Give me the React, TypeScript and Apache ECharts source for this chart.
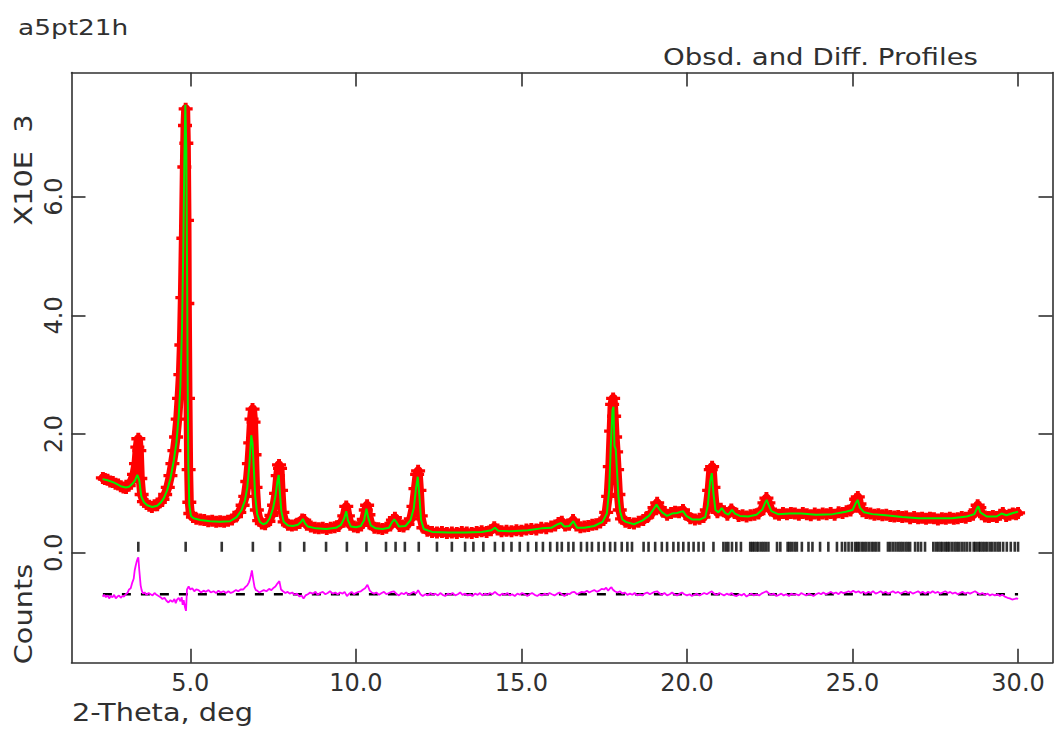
import React, { useEffect, useRef } from "react";
import * as echarts from "echarts";

// 2-theta (deg) vs observed counts (x1000)
const observed: [number, number][] = [
  [2.36, 1.26], [2.42, 1.24], [2.5, 1.23], [2.58, 1.2], [2.66, 1.19], [2.74, 1.16], [2.82, 1.15], [2.9, 1.12],
  [2.98, 1.1], [3.06, 1.09], [3.14, 1.13], [3.22, 1.2], [3.3, 1.32], [3.36, 1.5], [3.4, 1.78], [3.43, 1.92],
  [3.46, 1.72], [3.49, 1.25], [3.53, 0.98], [3.6, 0.86], [3.68, 0.82], [3.76, 0.79], [3.84, 0.77], [3.92, 0.8],
  [4.0, 0.8], [4.08, 0.85], [4.16, 0.9], [4.24, 0.98], [4.32, 1.1], [4.4, 1.3], [4.46, 1.5], [4.52, 1.72],
  [4.57, 1.95], [4.62, 2.25], [4.66, 2.6], [4.7, 3.0], [4.73, 3.5], [4.76, 4.3], [4.79, 5.3], [4.82, 6.5],
  [4.84, 7.2], [4.86, 7.48], [4.88, 6.9], [4.9, 5.6], [4.91, 4.2], [4.93, 2.6], [4.95, 1.4], [4.97, 0.85],
  [5.0, 0.66], [5.08, 0.6], [5.18, 0.57], [5.3, 0.56], [5.42, 0.55], [5.54, 0.53], [5.66, 0.54], [5.78, 0.52],
  [5.9, 0.53], [6.02, 0.52], [6.14, 0.54], [6.26, 0.56], [6.38, 0.61], [6.48, 0.68], [6.58, 0.8], [6.66, 0.95],
  [6.72, 1.2], [6.77, 1.5], [6.81, 1.85], [6.85, 2.25], [6.88, 2.42], [6.91, 2.2], [6.94, 1.65], [6.97, 1.1],
  [7.01, 0.72], [7.08, 0.54], [7.16, 0.49], [7.26, 0.48], [7.36, 0.53], [7.45, 0.63], [7.53, 0.8], [7.59, 1.0],
  [7.64, 1.3], [7.68, 1.48], [7.71, 1.42], [7.74, 1.05], [7.78, 0.68], [7.85, 0.52], [7.95, 0.47], [8.07, 0.46],
  [8.19, 0.47], [8.3, 0.5], [8.38, 0.56], [8.44, 0.55], [8.52, 0.47], [8.64, 0.44], [8.76, 0.42], [8.88, 0.41],
  [9.0, 0.42], [9.12, 0.4], [9.24, 0.42], [9.36, 0.43], [9.48, 0.45], [9.58, 0.52], [9.65, 0.62], [9.71, 0.78],
  [9.76, 0.62], [9.83, 0.47], [9.94, 0.44], [10.06, 0.43], [10.16, 0.46], [10.24, 0.56], [10.3, 0.72], [10.34, 0.8],
  [10.38, 0.64], [10.45, 0.48], [10.56, 0.42], [10.68, 0.41], [10.8, 0.4], [10.92, 0.42], [11.04, 0.46], [11.12, 0.55],
  [11.18, 0.59], [11.24, 0.53], [11.32, 0.45], [11.44, 0.44], [11.56, 0.48], [11.66, 0.57], [11.74, 0.78], [11.8, 1.08],
  [11.85, 1.32], [11.88, 1.38], [11.92, 1.05], [11.96, 0.62], [12.04, 0.42], [12.16, 0.37], [12.3, 0.35], [12.45, 0.34],
  [12.6, 0.35], [12.75, 0.33], [12.9, 0.34], [13.05, 0.33], [13.2, 0.35], [13.35, 0.34], [13.5, 0.33], [13.65, 0.35],
  [13.8, 0.36], [13.95, 0.35], [14.08, 0.38], [14.18, 0.43], [14.28, 0.39], [14.4, 0.36], [14.55, 0.37], [14.7, 0.36],
  [14.85, 0.38], [15.0, 0.37], [15.15, 0.39], [15.3, 0.4], [15.45, 0.39], [15.6, 0.42], [15.75, 0.41], [15.9, 0.44],
  [16.02, 0.46], [16.12, 0.5], [16.22, 0.52], [16.32, 0.46], [16.44, 0.47], [16.56, 0.55], [16.66, 0.46], [16.78, 0.43],
  [16.9, 0.44], [17.02, 0.45], [17.14, 0.47], [17.26, 0.48], [17.38, 0.51], [17.48, 0.55], [17.56, 0.68], [17.62, 0.95],
  [17.67, 1.45], [17.71, 2.05], [17.74, 2.5], [17.77, 2.6], [17.8, 2.3], [17.83, 1.95], [17.86, 1.7], [17.89, 1.4],
  [17.93, 0.98], [17.97, 0.72], [18.04, 0.57], [18.14, 0.52], [18.26, 0.5], [18.4, 0.49], [18.54, 0.52], [18.68, 0.55],
  [18.8, 0.6], [18.92, 0.66], [19.02, 0.76], [19.1, 0.84], [19.18, 0.76], [19.28, 0.69], [19.4, 0.64], [19.52, 0.67],
  [19.64, 0.69], [19.76, 0.68], [19.88, 0.72], [19.98, 0.64], [20.1, 0.58], [20.24, 0.56], [20.38, 0.57], [20.5, 0.6],
  [20.6, 0.72], [20.67, 1.05], [20.72, 1.4], [20.76, 1.45], [20.8, 1.1], [20.85, 0.78], [20.92, 0.68], [21.02, 0.74],
  [21.12, 0.7], [21.22, 0.64], [21.34, 0.73], [21.44, 0.67], [21.56, 0.62], [21.68, 0.63], [21.8, 0.61], [21.92, 0.63],
  [22.04, 0.64], [22.16, 0.66], [22.26, 0.72], [22.34, 0.84], [22.4, 0.92], [22.46, 0.84], [22.54, 0.71], [22.66, 0.66],
  [22.78, 0.64], [22.9, 0.67], [23.02, 0.65], [23.14, 0.67], [23.26, 0.66], [23.38, 0.64], [23.5, 0.67], [23.62, 0.65],
  [23.74, 0.63], [23.86, 0.66], [23.98, 0.64], [24.1, 0.66], [24.22, 0.65], [24.34, 0.67], [24.46, 0.64], [24.58, 0.68],
  [24.7, 0.67], [24.82, 0.7], [24.94, 0.71], [25.04, 0.78], [25.11, 0.9], [25.16, 0.94], [25.21, 0.82], [25.3, 0.7],
  [25.42, 0.67], [25.54, 0.66], [25.66, 0.64], [25.78, 0.65], [25.9, 0.63], [26.02, 0.64], [26.14, 0.62], [26.26, 0.61],
  [26.38, 0.62], [26.5, 0.6], [26.62, 0.61], [26.74, 0.58], [26.86, 0.6], [26.98, 0.58], [27.1, 0.59], [27.22, 0.57],
  [27.34, 0.59], [27.46, 0.58], [27.58, 0.56], [27.7, 0.58], [27.82, 0.57], [27.94, 0.59], [28.06, 0.57], [28.18, 0.58],
  [28.3, 0.6], [28.42, 0.59], [28.54, 0.62], [28.64, 0.64], [28.72, 0.72], [28.78, 0.8], [28.83, 0.76], [28.9, 0.65],
  [29.0, 0.61], [29.12, 0.6], [29.24, 0.62], [29.36, 0.6], [29.46, 0.64], [29.54, 0.67], [29.64, 0.62], [29.74, 0.64],
  [29.84, 0.66], [29.94, 0.65], [30.0, 0.67],
];

// calculated profile (x1000)
const calculated: [number, number][] = [
  [2.35, 1.24], [2.5, 1.22], [2.7, 1.18], [2.9, 1.12], [3.05, 1.1], [3.15, 1.11], [3.25, 1.16], [3.33, 1.22],
  [3.4, 1.31], [3.46, 1.22], [3.52, 0.95], [3.6, 0.85], [3.7, 0.8], [3.85, 0.77], [4.0, 0.79], [4.1, 0.84],
  [4.2, 0.92], [4.3, 1.05], [4.4, 1.25], [4.5, 1.55], [4.58, 1.85], [4.65, 2.3], [4.7, 2.8], [4.75, 3.8],
  [4.79, 5.2], [4.82, 6.6], [4.85, 7.55], [4.88, 6.8], [4.9, 5.0], [4.92, 3.0], [4.94, 1.5], [4.97, 0.8],
  [5.02, 0.62], [5.1, 0.58], [5.3, 0.55], [5.6, 0.53], [5.9, 0.52], [6.2, 0.53], [6.4, 0.6], [6.55, 0.72],
  [6.65, 0.88], [6.72, 1.1], [6.78, 1.45], [6.84, 1.98], [6.88, 1.85], [6.92, 1.4], [6.96, 0.95], [7.02, 0.65],
  [7.1, 0.52], [7.2, 0.48], [7.3, 0.5], [7.4, 0.58], [7.5, 0.75], [7.57, 0.95], [7.63, 1.2], [7.67, 1.31],
  [7.7, 1.05], [7.75, 0.7], [7.82, 0.52], [7.95, 0.46], [8.1, 0.45], [8.25, 0.47], [8.35, 0.52], [8.4, 0.57],
  [8.46, 0.5], [8.55, 0.44], [8.8, 0.41], [9.1, 0.4], [9.4, 0.42], [9.55, 0.47], [9.65, 0.58], [9.71, 0.7],
  [9.76, 0.55], [9.85, 0.44], [10.0, 0.43], [10.15, 0.45], [10.25, 0.55], [10.32, 0.74], [10.37, 0.6], [10.45, 0.46],
  [10.6, 0.41], [10.8, 0.4], [11.0, 0.42], [11.1, 0.52], [11.16, 0.56], [11.22, 0.52], [11.3, 0.44], [11.5, 0.45],
  [11.65, 0.55], [11.75, 0.75], [11.82, 1.1], [11.87, 1.28], [11.92, 0.95], [11.97, 0.55], [12.05, 0.4], [12.3, 0.35],
  [12.8, 0.34], [13.3, 0.34], [13.8, 0.35], [14.1, 0.38], [14.2, 0.42], [14.3, 0.37], [14.7, 0.36], [15.2, 0.38],
  [15.6, 0.41], [15.9, 0.42], [16.1, 0.48], [16.2, 0.5], [16.3, 0.44], [16.45, 0.45], [16.57, 0.53], [16.68, 0.42],
  [16.9, 0.42], [17.2, 0.45], [17.45, 0.52], [17.58, 0.66], [17.65, 1.05], [17.7, 1.8], [17.75, 2.4], [17.78, 2.46],
  [17.81, 1.8], [17.85, 1.74], [17.89, 1.35], [17.93, 0.95], [17.98, 0.7], [18.05, 0.56], [18.15, 0.52], [18.4, 0.48],
  [18.65, 0.54], [18.85, 0.62], [19.0, 0.74], [19.08, 0.81], [19.16, 0.74], [19.25, 0.68], [19.4, 0.62], [19.55, 0.66],
  [19.7, 0.67], [19.88, 0.7], [19.98, 0.62], [20.15, 0.56], [20.4, 0.56], [20.55, 0.6], [20.63, 0.8], [20.7, 1.2],
  [20.75, 1.34], [20.8, 1.0], [20.86, 0.72], [20.95, 0.68], [21.05, 0.75], [21.15, 0.67], [21.25, 0.64], [21.36, 0.72],
  [21.45, 0.66], [21.6, 0.62], [21.85, 0.61], [22.1, 0.64], [22.28, 0.73], [22.36, 0.84], [22.41, 0.89], [22.47, 0.8],
  [22.55, 0.7], [22.75, 0.65], [23.1, 0.66], [23.45, 0.66], [23.9, 0.64], [24.4, 0.65], [24.8, 0.69], [25.0, 0.72],
  [25.1, 0.84], [25.16, 0.89], [25.22, 0.76], [25.35, 0.68], [25.6, 0.65], [26.0, 0.63], [26.5, 0.6], [27.0, 0.58],
  [27.5, 0.58], [28.0, 0.58], [28.45, 0.61], [28.68, 0.65], [28.76, 0.75], [28.8, 0.78], [28.86, 0.68], [29.05, 0.61],
  [29.35, 0.61], [29.5, 0.66], [29.65, 0.63], [29.85, 0.67], [30.0, 0.69],
];

// difference curve, plotted with its offset (x1000)
const difference: [number, number][] = [
  [2.35, -0.74], [2.4, -0.71], [2.45, -0.75], [2.5, -0.72], [2.55, -0.77], [2.6, -0.73], [2.65, -0.75], [2.7, -0.71],
  [2.75, -0.77], [2.8, -0.74], [2.85, -0.72], [2.9, -0.76], [2.95, -0.73], [3.0, -0.74], [3.05, -0.7], [3.1, -0.68],
  [3.15, -0.62], [3.2, -0.6], [3.25, -0.5], [3.29, -0.44], [3.32, -0.3], [3.35, -0.22], [3.38, -0.15], [3.41, -0.1],
  [3.43, -0.08], [3.46, -0.3], [3.5, -0.55], [3.53, -0.63], [3.57, -0.69], [3.62, -0.67], [3.68, -0.71], [3.74, -0.68],
  [3.8, -0.7], [3.86, -0.72], [3.92, -0.68], [3.98, -0.71], [4.04, -0.73], [4.1, -0.75], [4.16, -0.78], [4.22, -0.76],
  [4.28, -0.81], [4.34, -0.84], [4.4, -0.8], [4.46, -0.83], [4.52, -0.78], [4.56, -0.85], [4.6, -0.79], [4.65, -0.76],
  [4.7, -0.82], [4.74, -0.75], [4.77, -0.88], [4.8, -0.8], [4.84, -0.92], [4.87, -0.98], [4.9, -0.62], [4.95, -0.57],
  [5.0, -0.62], [5.06, -0.6], [5.12, -0.65], [5.18, -0.62], [5.25, -0.63], [5.32, -0.67], [5.4, -0.64], [5.47, -0.66],
  [5.55, -0.63], [5.62, -0.67], [5.7, -0.65], [5.78, -0.68], [5.85, -0.64], [5.92, -0.67], [6.0, -0.65], [6.08, -0.68],
  [6.15, -0.65], [6.22, -0.68], [6.3, -0.66], [6.38, -0.63], [6.45, -0.65], [6.52, -0.62], [6.6, -0.62], [6.66, -0.58],
  [6.72, -0.55], [6.77, -0.5], [6.8, -0.45], [6.84, -0.36], [6.86, -0.3], [6.9, -0.45], [6.94, -0.58], [6.98, -0.63],
  [7.02, -0.64], [7.08, -0.67], [7.15, -0.65], [7.22, -0.63], [7.3, -0.65], [7.38, -0.61], [7.45, -0.63], [7.52, -0.59],
  [7.57, -0.57], [7.63, -0.52], [7.69, -0.48], [7.74, -0.62], [7.8, -0.65], [7.87, -0.68], [7.94, -0.66], [8.0, -0.69],
  [8.08, -0.67], [8.15, -0.71], [8.22, -0.69], [8.3, -0.74], [8.36, -0.72], [8.42, -0.77], [8.48, -0.72], [8.55, -0.7],
  [8.62, -0.67], [8.7, -0.69], [8.78, -0.66], [8.85, -0.71], [8.92, -0.68], [9.0, -0.66], [9.08, -0.7], [9.15, -0.68],
  [9.22, -0.65], [9.3, -0.69], [9.38, -0.67], [9.45, -0.7], [9.52, -0.67], [9.6, -0.69], [9.66, -0.66], [9.73, -0.73],
  [9.8, -0.69], [9.87, -0.66], [9.94, -0.7], [10.0, -0.68], [10.08, -0.66], [10.15, -0.65], [10.22, -0.62], [10.28, -0.6],
  [10.35, -0.54], [10.42, -0.64], [10.48, -0.67], [10.55, -0.69], [10.62, -0.67], [10.7, -0.71], [10.78, -0.68], [10.85, -0.66],
  [10.92, -0.7], [11.0, -0.68], [11.08, -0.66], [11.15, -0.65], [11.22, -0.69], [11.3, -0.72], [11.38, -0.68], [11.45, -0.7],
  [11.52, -0.67], [11.6, -0.71], [11.68, -0.68], [11.75, -0.66], [11.82, -0.69], [11.88, -0.63], [11.95, -0.7], [12.02, -0.73],
  [12.1, -0.7], [12.18, -0.72], [12.25, -0.68], [12.32, -0.71], [12.4, -0.69], [12.48, -0.72], [12.55, -0.68], [12.62, -0.71],
  [12.7, -0.73], [12.78, -0.69], [12.85, -0.71], [12.92, -0.68], [13.0, -0.72], [13.08, -0.7], [13.15, -0.67], [13.22, -0.71],
  [13.3, -0.69], [13.38, -0.72], [13.45, -0.7], [13.52, -0.73], [13.6, -0.69], [13.68, -0.71], [13.75, -0.68], [13.82, -0.72],
  [13.9, -0.69], [13.98, -0.71], [14.05, -0.68], [14.12, -0.7], [14.2, -0.66], [14.28, -0.7], [14.35, -0.72], [14.42, -0.69],
  [14.5, -0.71], [14.58, -0.68], [14.65, -0.72], [14.72, -0.7], [14.8, -0.73], [14.88, -0.69], [14.95, -0.71], [15.02, -0.68],
  [15.1, -0.7], [15.18, -0.73], [15.25, -0.7], [15.32, -0.68], [15.4, -0.71], [15.48, -0.73], [15.55, -0.7], [15.62, -0.72],
  [15.7, -0.69], [15.78, -0.71], [15.85, -0.68], [15.92, -0.7], [16.0, -0.72], [16.08, -0.69], [16.15, -0.67], [16.22, -0.7],
  [16.3, -0.73], [16.38, -0.69], [16.45, -0.7], [16.52, -0.67], [16.6, -0.66], [16.68, -0.7], [16.75, -0.68], [16.82, -0.66],
  [16.9, -0.67], [16.98, -0.64], [17.05, -0.67], [17.12, -0.65], [17.2, -0.63], [17.28, -0.66], [17.35, -0.64], [17.42, -0.61],
  [17.5, -0.62], [17.56, -0.59], [17.62, -0.64], [17.68, -0.6], [17.72, -0.58], [17.76, -0.62], [17.82, -0.65], [17.9, -0.67],
  [17.98, -0.65], [18.05, -0.69], [18.12, -0.67], [18.2, -0.71], [18.28, -0.69], [18.35, -0.71], [18.42, -0.68], [18.5, -0.72],
  [18.58, -0.7], [18.65, -0.72], [18.72, -0.69], [18.8, -0.67], [18.88, -0.7], [18.95, -0.68], [19.02, -0.66], [19.1, -0.65],
  [19.18, -0.69], [19.25, -0.71], [19.32, -0.68], [19.4, -0.72], [19.48, -0.7], [19.55, -0.67], [19.62, -0.7], [19.7, -0.72],
  [19.78, -0.69], [19.85, -0.67], [19.92, -0.7], [20.0, -0.72], [20.08, -0.7], [20.15, -0.73], [20.22, -0.71], [20.3, -0.69],
  [20.38, -0.72], [20.45, -0.7], [20.52, -0.68], [20.6, -0.7], [20.68, -0.67], [20.75, -0.65], [20.82, -0.69], [20.9, -0.71],
  [20.98, -0.68], [21.05, -0.7], [21.12, -0.72], [21.2, -0.69], [21.28, -0.71], [21.35, -0.68], [21.42, -0.72], [21.5, -0.73],
  [21.58, -0.7], [21.65, -0.72], [21.72, -0.69], [21.8, -0.74], [21.88, -0.71], [21.95, -0.69], [22.02, -0.72], [22.1, -0.7],
  [22.18, -0.72], [22.25, -0.69], [22.32, -0.67], [22.4, -0.65], [22.48, -0.69], [22.55, -0.71], [22.62, -0.69], [22.7, -0.73],
  [22.78, -0.71], [22.85, -0.69], [22.92, -0.72], [23.0, -0.7], [23.08, -0.73], [23.15, -0.69], [23.22, -0.71], [23.3, -0.7],
  [23.38, -0.72], [23.45, -0.68], [23.52, -0.7], [23.6, -0.72], [23.68, -0.69], [23.75, -0.71], [23.82, -0.73], [23.9, -0.7],
  [23.98, -0.68], [24.05, -0.7], [24.12, -0.67], [24.2, -0.7], [24.28, -0.68], [24.35, -0.66], [24.42, -0.69], [24.5, -0.67],
  [24.58, -0.7], [24.65, -0.66], [24.72, -0.68], [24.8, -0.67], [24.88, -0.65], [24.95, -0.67], [25.02, -0.64], [25.1, -0.67],
  [25.18, -0.65], [25.25, -0.68], [25.32, -0.66], [25.4, -0.69], [25.48, -0.66], [25.55, -0.68], [25.62, -0.65], [25.7, -0.69],
  [25.78, -0.67], [25.85, -0.65], [25.92, -0.68], [26.0, -0.66], [26.08, -0.69], [26.15, -0.67], [26.22, -0.65], [26.3, -0.68],
  [26.38, -0.66], [26.45, -0.69], [26.52, -0.67], [26.6, -0.65], [26.68, -0.68], [26.75, -0.66], [26.82, -0.69], [26.9, -0.67],
  [26.98, -0.65], [27.05, -0.68], [27.12, -0.66], [27.2, -0.69], [27.28, -0.66], [27.35, -0.68], [27.42, -0.65], [27.5, -0.68],
  [27.58, -0.66], [27.65, -0.69], [27.72, -0.67], [27.8, -0.65], [27.88, -0.68], [27.95, -0.66], [28.02, -0.69], [28.1, -0.67],
  [28.18, -0.7], [28.25, -0.68], [28.32, -0.66], [28.4, -0.69], [28.48, -0.67], [28.55, -0.69], [28.62, -0.67], [28.7, -0.65],
  [28.78, -0.68], [28.85, -0.7], [28.92, -0.68], [29.0, -0.71], [29.08, -0.69], [29.15, -0.72], [29.22, -0.7], [29.3, -0.72],
  [29.38, -0.7], [29.45, -0.73], [29.52, -0.71], [29.6, -0.74], [29.68, -0.76], [29.75, -0.77], [29.82, -0.79], [29.9, -0.78],
  [29.96, -0.77], [30.0, -0.78],
];

// reflection positions (deg)
const reflections: number[] = [
  3.43, 4.86, 5.95, 6.89, 7.71, 8.44, 9.1, 9.73, 10.32, 10.91, 11.2, 11.48, 11.9, 12.45, 12.9, 13.3, 13.55, 13.85,
  14.2, 14.45, 14.7, 14.95, 15.2, 15.45, 15.65, 15.87, 16.08, 16.22, 16.42, 16.57, 16.8, 16.98, 17.13, 17.33, 17.5,
  17.68, 17.83, 18.03, 18.2, 18.34, 18.69, 18.84, 19.04, 19.24, 19.4, 19.59, 19.74, 19.89, 20.05, 20.2, 20.35, 20.5,
  20.8, 21.1, 21.18, 21.25, 21.36, 21.49, 21.63, 21.91, 21.97, 22.03, 22.1, 22.16, 22.24, 22.31, 22.38, 22.46, 22.72,
  22.82, 23.04, 23.1, 23.17, 23.25, 23.32, 23.47, 23.67, 23.79, 24.02, 24.27, 24.53, 24.68, 24.78, 24.88, 24.98,
  25.08, 25.14, 25.2, 25.28, 25.35, 25.42, 25.5, 25.58, 25.65, 25.72, 25.8, 26.07, 26.14, 26.22, 26.3, 26.38, 26.45,
  26.52, 26.6, 26.67, 26.74, 26.89, 26.98, 27.07, 27.19, 27.44, 27.52, 27.59, 27.66, 27.72, 27.8, 27.86, 27.92, 28.0,
  28.08, 28.15, 28.22, 28.3, 28.38, 28.46, 28.55, 28.66, 28.72, 28.8, 28.86, 28.93, 29.0, 29.07, 29.15, 29.22, 29.3,
  29.38, 29.45, 29.55, 29.66, 29.78, 29.9, 30.0,
];

const reflectionLevel = 0.1;
const diffZero = -0.7;
const xTicks = [5, 10, 15, 20, 25, 30];
const yTicks = [0, 2, 4, 6];
const xRange = [1.412, 31.04];
const yRange = [-1.854, 8.093];

const FONT = "DejaVu Sans";
const INK = "#303030";
const PLUS = "path://M0 3.6H10V6.4H0Z M3.6 0H6.4V10H3.6Z";

export default function App() {
  const ref = useRef<HTMLDivElement>(null);
  useEffect(() => {
    if (!ref.current) return;
    const chart = echarts.init(ref.current, null, { renderer: "svg" });
    const axisLine = { show: true, onZero: false, lineStyle: { color: INK, width: 1.6 } };
    const tickX = { show: true, inside: true, length: 14, customValues: xTicks, lineStyle: { color: INK, width: 1.6 } };
    const tickY = { show: true, inside: true, length: 14, customValues: yTicks, lineStyle: { color: INK, width: 1.6 } };
    const thetaFirst = observed[0][0];
    const thetaLast = observed[observed.length - 1][0];
    const txt = (text: string, x: number, y: number, align: string, rot: number, size: number) => ({
      type: "text", x, y, rotation: rot, scaleX: 1.2, scaleY: 1,
      style: { text, font: `${size}px "${FONT}"`, fill: INK, align, verticalAlign: "middle" },
    });
    chart.setOption({
      animation: false,
      backgroundColor: "#ffffff",
      textStyle: { fontFamily: FONT },
      grid: { left: 71.5, right: 3.5, top: 72.5, bottom: 67.3, containLabel: false },
      xAxis: [
        {
          type: "value", position: "bottom", min: xRange[0], max: xRange[1],
          axisLine, axisTick: tickX, splitLine: { show: false },
          axisLabel: {
            customValues: xTicks, margin: 8, color: INK, fontSize: 24, fontFamily: FONT,
            formatter: (v: number) => v.toFixed(1),
          },
        },
        {
          type: "value", position: "top", min: xRange[0], max: xRange[1],
          axisLine, axisTick: tickX, splitLine: { show: false }, axisLabel: { show: false },
        },
      ],
      yAxis: [
        {
          type: "value", position: "left", min: yRange[0], max: yRange[1],
          axisLine, axisTick: tickY, splitLine: { show: false },
          axisLabel: {
            customValues: yTicks, rotate: 90, margin: 6, color: INK, fontSize: 24, fontFamily: FONT,
            formatter: (v: number) => v.toFixed(1),
          },
        },
        {
          type: "value", position: "right", min: yRange[0], max: yRange[1],
          axisLine, axisTick: tickY, splitLine: { show: false }, axisLabel: { show: false },
        },
      ],
      series: [
        {
          name: "Observed", type: "line", data: observed, z: 2,
          symbol: PLUS, symbolSize: [14, 12], showSymbol: true,
          itemStyle: { color: "#ff0000" },
          lineStyle: { color: "#ff0000", width: 9, join: "round", cap: "round" },
        },
        {
          name: "Calculated", type: "line", data: calculated, z: 3, symbol: "none",
          lineStyle: { color: "#00f000", width: 2 },
        },
        {
          name: "Zero", type: "line", data: [[thetaFirst, diffZero], [thetaLast, diffZero]], z: 3, symbol: "none",
          lineStyle: { color: "#000000", width: 2.5, type: [9, 10] },
        },
        {
          name: "Difference", type: "line", data: difference, z: 4, symbol: "none",
          lineStyle: { color: "#ff00ff", width: 1.8 },
        },
        {
          name: "Reflections", type: "scatter", z: 3,
          data: reflections.map((t) => [t, reflectionLevel]),
          symbol: "rect", symbolSize: [2.6, 10], itemStyle: { color: "#000000" },
        },
      ],
      graphic: [
        txt("a5pt21h", 18, 27, "left", 0, 22),
        txt("Obsd. and Diff. Profiles", 978, 57, "right", 0, 23),
        txt("X10E  3", 23, 170, "center", Math.PI / 2, 24),
        txt("Counts", 23, 614, "center", Math.PI / 2, 24),
        txt("2-Theta, deg", 72, 712, "left", 0, 24),
      ],
    });
    return () => chart.dispose();
  }, []);
  return <div ref={ref} style={{ position: "absolute", left: 0, top: 0, width: 1056, height: 730, background: "#fff" }} />;
}
